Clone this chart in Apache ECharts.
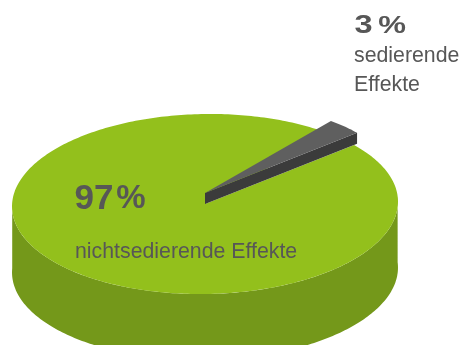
<!DOCTYPE html>
<html>
<head>
<meta charset="utf-8">
<script src="https://cdn.jsdelivr.net/npm/echarts@6/dist/echarts.min.js"></script>
<style>html,body{margin:0;padding:0;background:#fff;}#c{width:463px;height:345px;}</style>
</head>
<body>
<div id="c"></div>
<script>
// ---- data ----
const categories = ['sedierende Effekte', 'nichtsedierende Effekte'];
const values = [3, 97];
const percentNumbers = ['3', '97'];
const percentSign = '%';
const nameLines = [['sedierende', 'Effekte'], ['nichtsedierende Effekte']];

// ---- layout / style ----
const CX = 205, CY = 204, RX = 193, RY = 90, DEPTH = 66;
const ROT = 0.9 * Math.PI / 180;   // slight tilt: right side up
const START_DEG = 39;
const LIFT = 11;                   // raised small slice
const LIFT_SCALE = 1.02;
const topColors = ['#5f5f5f', '#93c01c'];
const sideColors = ['#3b3b3b', '#74981a'];
const TEXT = '#575757';
const FONT = '"Liberation Sans", Arial, Helvetica, sans-serif';

const total = values.reduce((a, b) => a + b, 0);
const cum = [];
values.reduce((acc, v, i) => { cum[i] = acc; return acc + v; }, 0);

function pt(tDeg, cy, s) {
  s = s || 1;
  const t = tDeg * Math.PI / 180;
  const dx = RX * s * Math.cos(t), dy = -RY * s * Math.sin(t);
  return [CX + dx * Math.cos(ROT) + dy * Math.sin(ROT),
          cy - dx * Math.sin(ROT) + dy * Math.cos(ROT)];
}
function arc(a, b, cy, s) {
  const pts = [];
  const n = Math.max(2, Math.ceil(Math.abs(b - a)));
  for (let k = 0; k <= n; k++) pts.push(pt(a + (b - a) * k / n, cy, s));
  return pts;
}

function renderItem(params, api) {
  const i = params.dataIndex;
  const v = api.value(0);
  const a = START_DEG + cum[i] / total * 360;
  const b = a + v / total * 360;
  const lifted = v / total < 0.1;
  const cyTop = lifted ? CY - LIFT : CY;
  const depth = lifted ? LIFT : DEPTH;
  const sc = lifted ? LIFT_SCALE : 1;
  const children = [];
  const zb = lifted ? 10 : 0;

  // front side band (angles ~180..360 mod 360)
  [[177, 363], [537, 723]].forEach(function (r) {
    const s = Math.max(a, r[0]), e = Math.min(b, r[1]);
    if (e > s) {
      const up = arc(s, e, cyTop, sc);
      const down = arc(e, s, cyTop + depth, sc);
      children.push({ type: 'polygon', z2: zb + 1, shape: { points: up.concat(down) },
        style: { fill: sideColors[i] } });
    }
  });
  if (lifted) {
    // radial face at start edge (faces viewer)
    const o = pt(a, cyTop, sc);
    children.push({ type: 'polygon', z2: zb + 2,
      shape: { points: [[CX, cyTop], o, [o[0], o[1] + depth], [CX, cyTop + depth]] },
      style: { fill: sideColors[i] } });
  }
  // top face
  children.push({ type: 'polygon', z2: zb + 3,
    shape: { points: [[CX, cyTop]].concat(arc(a, b, cyTop, sc)) },
    style: { fill: topColors[i] } });

  // labels
  if (lifted) {
    children.push({ type: 'text', z2: 30, x: 354.5, y: 26.3, scaleX: 1.3, scaleY: 1,
      style: { x: 0, y: 0, text: '{d|' + percentNumbers[i] + '}{s| }{p|' + percentSign + '}',
        fill: TEXT, verticalAlign: 'middle',
        rich: {
          d: { fontFamily: FONT, fontWeight: 'bold', fontSize: 25, fill: TEXT },
          s: { fontFamily: FONT, fontSize: 16 },
          p: { fontFamily: FONT, fontWeight: 'bold', fontSize: 24, fill: TEXT }
        } } });
    nameLines[i].forEach(function (ln, k) {
      children.push({ type: 'text', z2: 30, style: { x: 354, y: 56 + k * 29, text: ln,
        font: '21.3px ' + FONT, fill: TEXT, verticalAlign: 'middle' } });
    });
  } else {
    children.push({ type: 'text', z2: 30, x: 74.6, y: 198.9,
      style: { x: 0, y: 0, text: '{d|' + percentNumbers[i] + '}{s| }{p|' + percentSign + '}',
        fill: TEXT, verticalAlign: 'middle',
        rich: {
          d: { fontFamily: FONT, fontWeight: 'bold', fontSize: 35, fill: TEXT },
          s: { fontFamily: FONT, fontSize: 10 },
          p: { fontFamily: FONT, fontWeight: 'bold', fontSize: 33, fill: TEXT }
        } } });
    nameLines[i].forEach(function (ln, k) {
      children.push({ type: 'text', z2: 30, style: { x: 75, y: 252.4 + k * 29, text: ln,
        font: '21.3px ' + FONT, fill: TEXT, verticalAlign: 'middle' } });
    });
  }
  return { type: 'group', children: children };
}

const chart = echarts.init(document.getElementById('c'), null, { renderer: 'canvas' });
chart.setOption({
  animation: false,
  series: [{
    type: 'custom',
    coordinateSystem: 'none',
    renderItem: renderItem,
    data: values.map(function (v, i) { return { value: [v, i], name: categories[i] }; })
  }]
});
</script>
</body>
</html>
